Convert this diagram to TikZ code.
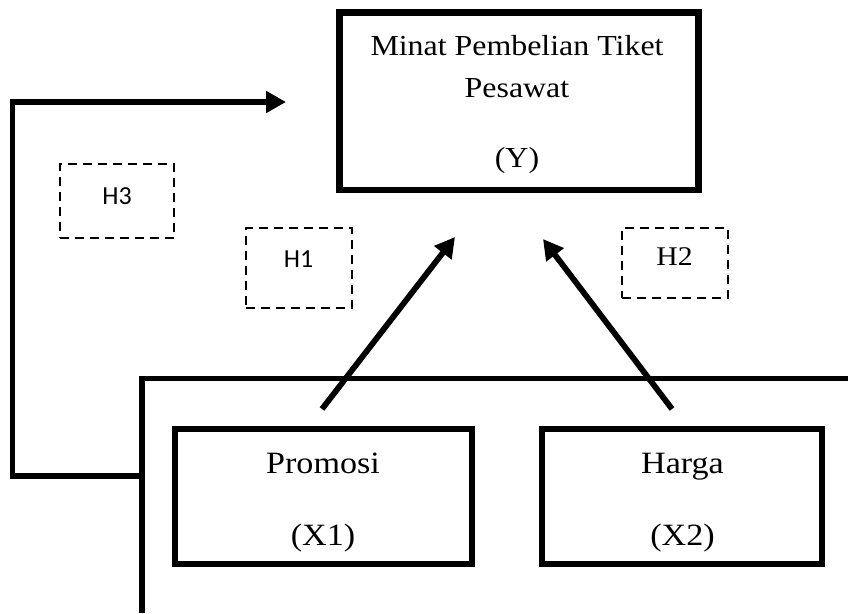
\documentclass[tikz,border=0pt]{standalone}
\usepackage{fontspec}
\setmainfont{Liberation Serif}
\newfontfamily\palfont[FakeStretch=1.1]{Liberation Serif}
\newfontfamily\hsansfont{Carlito}
\usetikzlibrary{arrows.meta}
\tikzset{
  x=1pt, y=-1pt,
  solidbox/.style={draw=black, line width=6pt, rectangle, inner sep=0pt},
  hbox/.style={draw=black, line width=2.4pt, dash pattern=on 9pt off 6pt, rectangle, inner sep=0pt},
  conn/.style={draw=black, line width=5.8pt, line join=miter, -{Triangle[length=20pt,width=21pt]}},
  bline/.style={draw=black, line width=5.8pt, line join=miter},
  toptxt/.style={anchor=base, inner sep=0pt, font=\palfont\fontsize{29}{34}\selectfont},
  bottxt/.style={anchor=base, inner sep=0pt, font=\palfont\fontsize{31}{36}\selectfont},
  hsans/.style={anchor=base, inner sep=0pt, font=\hsansfont\fontsize{26}{30}\selectfont},
  hserif/.style={anchor=base, inner sep=0pt, font=\palfont\fontsize{27}{30}\selectfont},
}
\begin{document}
\begin{tikzpicture}
\useasboundingbox (0,0) rectangle (848,613);
% top box
\node[solidbox, line width=6.5pt, minimum width=359pt, minimum height=177.5pt] (y) at (519,101.25) {};
\node[toptxt] (y1) at (517,55) {Minat Pembelian Tiket};
\node[toptxt] (y2) at (517,97) {Pesawat};
\node[toptxt] (y3) at (517,167) {(Y)};
% bottom boxes
\node[solidbox, minimum width=297.5pt, minimum height=135pt] (x1) at (323.25,496.5) {};
\node[bottxt] (x1a) at (323,473) {Promosi};
\node[bottxt] (x1b) at (323,545) {(X1)};
\node[solidbox, minimum width=280pt, minimum height=135pt] (x2) at (682,496.5) {};
\node[bottxt] (x2a) at (682.5,473) {Harga};
\node[bottxt] (x2b) at (682.5,545) {(X2)};
% hypothesis labels
\node[hbox, minimum width=114pt, minimum height=74pt] (h3) at (117,201) {};
\node[hsans] (h3t) at (117,204) {H3};
\node[hbox, minimum width=106pt, minimum height=80pt] (h1) at (299,268) {};
\node[hsans] (h1t) at (298.5,267) {H1};
\node[hbox, minimum width=106pt, minimum height=70pt] (h2) at (675,263) {};
\node[hserif] (h2t) at (674.5,265) {H2};
% bracket
\coordinate (br) at (848,378.5);
\coordinate (bc) at (142,378.5);
\coordinate (bb) at (142,613);
\coordinate (bj) at (142,476);
\coordinate (lc) at (12.5,476);
\coordinate (lt) at (12.5,102);
\coordinate (ltip) at (286,102);
\draw[bline] (br) -- (bc) -- (bb);
\draw[conn] (bj) -- (lc) -- (lt) -- (ltip);
% diagonal arrows
\coordinate (a1s) at (322,409);
\coordinate (a1e) at (455,237);
\coordinate (a2s) at (672,409);
\coordinate (a2e) at (543,239);
\draw[conn] (a1s) -- (a1e);
\draw[conn] (a2s) -- (a2e);
\end{tikzpicture}
\end{document}
